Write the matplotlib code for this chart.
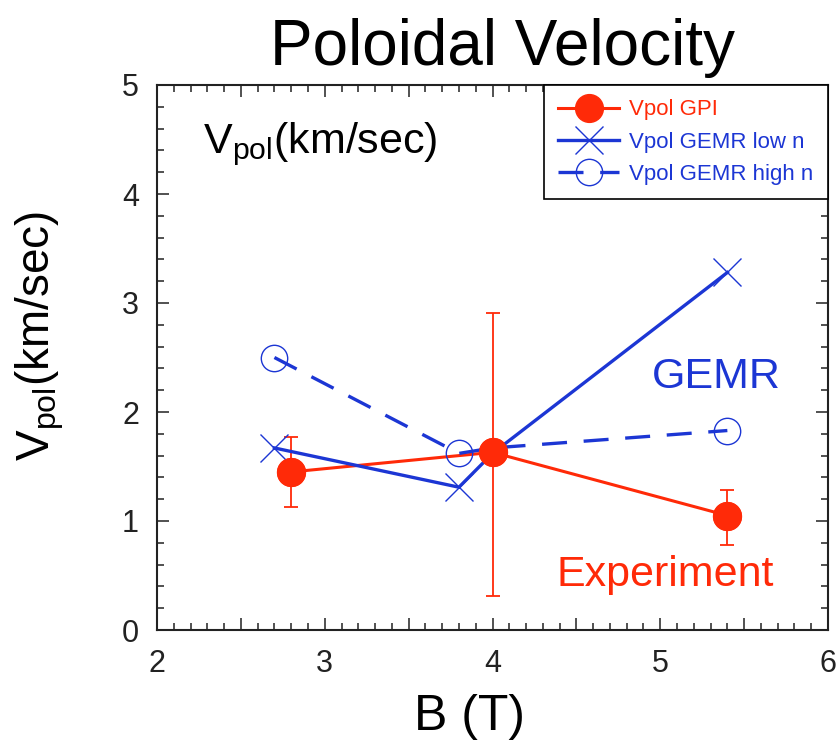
import matplotlib
matplotlib.use("Agg")
import matplotlib.pyplot as plt
from matplotlib.ticker import MultipleLocator, FuncFormatter

plt.rcParams['font.family'] = ['Liberation Sans', 'DejaVu Sans']
plt.rcParams['mathtext.fontset'] = 'custom'
plt.rcParams['mathtext.rm'] = 'Liberation Sans'
plt.rcParams['mathtext.it'] = 'Liberation Sans'

# Data
b_gpi = [2.8, 4.0, 5.4]
v_gpi = [1.45, 1.63, 1.05]
err_lo = [1.13, 0.31, 0.78]
err_hi = [1.77, 2.91, 1.28]

b_gemr = [2.7, 3.8, 4.0, 5.4]
v_low = [1.67, 1.31, 1.62, 3.28]
v_high = [2.50, 1.62, 1.67, 1.83]

RED = '#FF2A08'
BLUE = '#1C36D4'

fig = plt.figure(figsize=(8.4, 7.44), dpi=100)
ax = fig.add_axes([157/840, 1-630/744, (828-157)/840, (630-85)/744])

yerr = [[v - lo for v, lo in zip(v_gpi, err_lo)], [hi - v for v, hi in zip(v_gpi, err_hi)]]
ax.errorbar(b_gpi, v_gpi, yerr=yerr, fmt='none', ecolor=RED, elinewidth=1.3,
            capsize=5, capthick=1.3, zorder=1)
ax.plot(b_gpi, v_gpi, '-o', color=RED, lw=2.2, ms=20, label='Vpol GPI', zorder=2)
ax.plot(b_gemr, v_low, '-x', color=BLUE, lw=2.4, ms=20, mew=1.0, markevery=[0, 1, 3],
        label='Vpol GEMR low n', zorder=3)
ax.plot(b_gemr, v_high, '--o', color=BLUE, lw=2.4, ms=19, mew=1.0, mfc='none',
        markevery=[0, 1, 3], dashes=(7.5, 5), label='Vpol GEMR high n', zorder=3)
ax.plot(b_gpi, v_gpi, 'o', color=RED, ms=20, zorder=4)

ax.set_xlim(2, 6)
ax.set_ylim(0, 5)
ax.xaxis.set_major_locator(MultipleLocator(0.5))
ax.xaxis.set_minor_locator(MultipleLocator(0.1))
ax.xaxis.set_major_formatter(FuncFormatter(lambda v, p: f'{int(round(v))}' if abs(v - round(v)) < 1e-6 else ''))
ax.yaxis.set_major_locator(MultipleLocator(1))
ax.yaxis.set_minor_locator(MultipleLocator(0.2))
ax.tick_params(which='both', direction='in', top=True, right=True, width=1.1,
               labelsize=22, colors='#222222')
ax.tick_params(which='major', length=8.5)
ax.tick_params(which='minor', length=5)
ax.tick_params(axis='x', pad=14)
ax.tick_params(axis='y', pad=13)
for s in ax.spines.values():
    s.set_linewidth(1.5)
    s.set_color('#222222')

# Labels
fig.text(502/840, 1-65/744, 'Poloidal Velocity', fontsize=46, ha='center', va='baseline')
ax.text(0.466, -0.16, 'B (T)', fontsize=36, ha='center', va='center', transform=ax.transAxes)
ax.text(-0.174, 0.54, r'V$_{\mathregular{pol}}$(km/sec)', fontsize=33, rotation=90,
        ha='center', va='center', transform=ax.transAxes)
ax.text(0.0686, 0.875, r'V$_{\mathregular{pol}}$(km/sec)', fontsize=31,
        ha='left', va='baseline', transform=ax.transAxes)
ax.text(0.738, 0.444, 'GEMR', fontsize=31, color=BLUE, ha='left', va='baseline',
        transform=ax.transAxes)
ax.text(0.596, 0.081, 'Experiment', fontsize=31, color=RED, ha='left', va='baseline',
        transform=ax.transAxes)

leg = ax.legend(loc='upper right', bbox_to_anchor=(1, 1), borderaxespad=0,
                fontsize=16, handlelength=2.75, handletextpad=0.45, labelspacing=0.5,
                borderpad=0.65, fancybox=False, framealpha=1, edgecolor='black',
                labelcolor='linecolor')
leg.get_frame().set_linewidth(1.2)

fig.savefig('out.png', dpi=100)
